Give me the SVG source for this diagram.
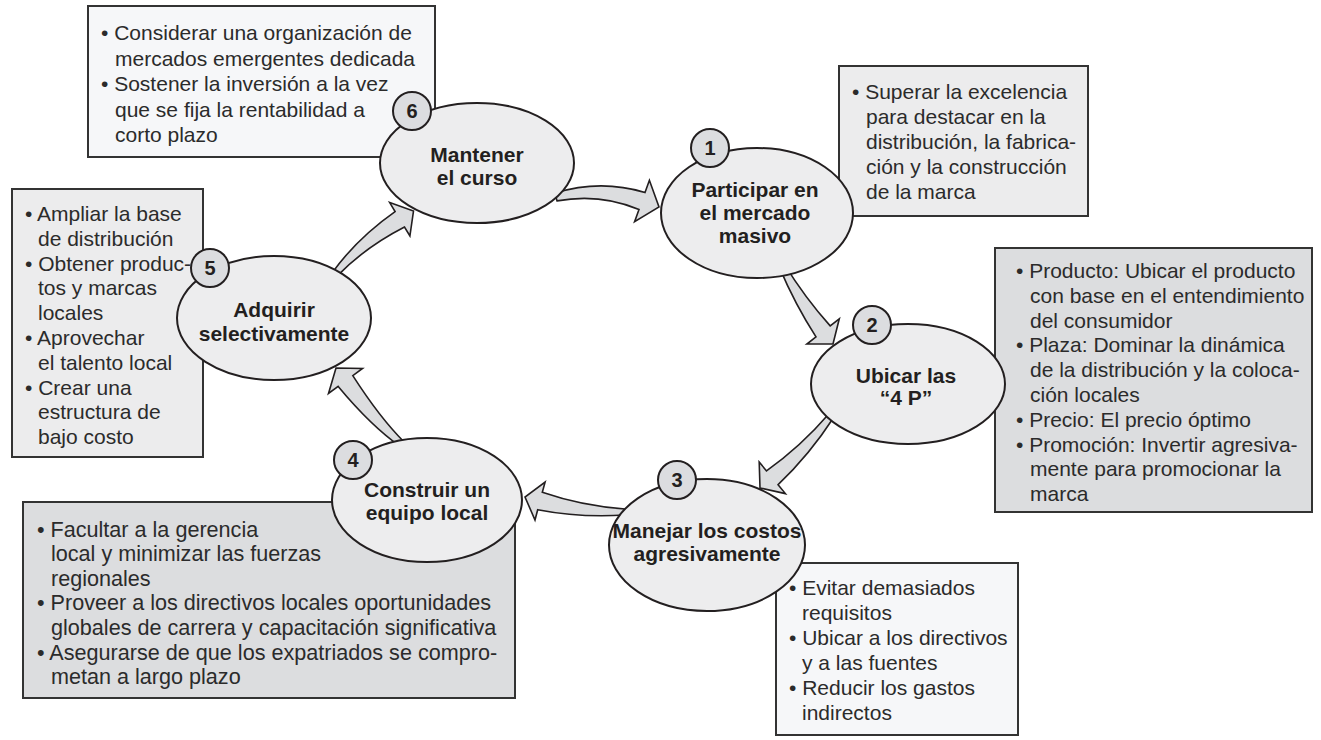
<svg xmlns="http://www.w3.org/2000/svg" width="1321" height="740" viewBox="0 0 1321 740">
<style>
.bx{stroke:#333;stroke-width:2}
.w{fill:#f6f7f9}.l{fill:#ececed}.g{fill:#dcdddf}
.t{font-family:"Liberation Sans",Arial,sans-serif;font-size:21px;fill:#2b2b2b}
.t4{font-size:21.6px}
.lbl{font-family:"Liberation Sans",Arial,sans-serif;font-size:21px;font-weight:bold;fill:#231f20;text-anchor:middle}
.num{font-family:"Liberation Sans",Arial,sans-serif;font-size:20px;font-weight:bold;fill:#231f20;text-anchor:middle}
.ell{fill:#ededee;stroke:#231f20;stroke-width:2}
.cir{fill:#dcdde0;stroke:#231f20;stroke-width:2}
.arr{fill:#dcdddf;stroke:#231f20;stroke-width:1.6;stroke-linejoin:miter}
</style>
<rect width="1321" height="740" fill="#ffffff"/>

<g id="note-6">
<rect class="bx w" x="88" y="6" width="347" height="151"/>
<text class="t" x="101" y="40">• Considerar una organización de</text>
<text class="t" x="115" y="65.5">mercados emergentes dedicada</text>
<text class="t" x="101" y="91">• Sostener la inversión a la vez</text>
<text class="t" x="115" y="116.5">que se fija la rentabilidad a</text>
<text class="t" x="115" y="142">corto plazo</text>
</g>
<g id="note-1">
<rect class="bx l" x="839" y="66" width="249" height="150"/>
<text class="t" x="852" y="99">• Superar la excelencia</text>
<text class="t" x="866" y="124">para destacar en la</text>
<text class="t" x="866" y="149">distribución, la fabrica-</text>
<text class="t" x="866" y="174">ción y la construcción</text>
<text class="t" x="866" y="199">de la marca</text>
</g>
<g id="note-2">
<rect class="bx g" x="995" y="248" width="317" height="264"/>
<text class="t" x="1016" y="278">• Producto: Ubicar el producto</text>
<text class="t" x="1030" y="302.8">con base en el entendimiento</text>
<text class="t" x="1030" y="327.6">del consumidor</text>
<text class="t" x="1016" y="352.4">• Plaza: Dominar la dinámica</text>
<text class="t" x="1030" y="377.2">de la distribución y la coloca-</text>
<text class="t" x="1030" y="402">ción locales</text>
<text class="t" x="1016" y="426.8">• Precio: El precio óptimo</text>
<text class="t" x="1016" y="451.6">• Promoción: Invertir agresiva-</text>
<text class="t" x="1030" y="476.4">mente para promocionar la</text>
<text class="t" x="1030" y="501.2">marca</text>
</g>
<g id="note-3">
<rect class="bx w" x="776" y="563" width="242" height="172"/>
<text class="t" x="789" y="595">• Evitar demasiados</text>
<text class="t" x="802" y="620">requisitos</text>
<text class="t" x="789" y="645">• Ubicar a los directivos</text>
<text class="t" x="802" y="670">y a las fuentes</text>
<text class="t" x="789" y="695">• Reducir los gastos</text>
<text class="t" x="802" y="720">indirectos</text>
</g>
<g id="note-4">
<rect class="bx g" x="23" y="502" width="492" height="196"/>
<text class="t t4" x="37" y="536.5">• Facultar a la gerencia</text>
<text class="t t4" x="51" y="561.1">local y minimizar las fuerzas</text>
<text class="t t4" x="51" y="585.7">regionales</text>
<text class="t t4" x="37" y="610.3">• Proveer a los directivos locales oportunidades</text>
<text class="t t4" x="51" y="634.9">globales de carrera y capacitación significativa</text>
<text class="t t4" x="37" y="659.5">• Asegurarse de que los expatriados se compro-</text>
<text class="t t4" x="51" y="684.1">metan a largo plazo</text>
</g>
<g id="note-5">
<rect class="bx l" x="12" y="189" width="191" height="268"/>
<text class="t" x="25" y="221">• Ampliar la base</text>
<text class="t" x="38" y="245.8">de distribución</text>
<text class="t" x="25" y="270.6">• Obtener produc-</text>
<text class="t" x="38" y="295.4">tos y marcas</text>
<text class="t" x="38" y="320.2">locales</text>
<text class="t" x="25" y="345">• Aprovechar</text>
<text class="t" x="38" y="369.8">el talento local</text>
<text class="t" x="25" y="394.6">• Crear una</text>
<text class="t" x="38" y="419.4">estructura de</text>
<text class="t" x="38" y="444.2">bajo costo</text>
</g>

<g id="connectors">
<path class="arr" d="M555,193.1 Q600.3,179 645,192.5 L649.4,180.3 L659,207 L634.6,221.7 L639,209.5 Q599.7,193 557,200.9 Z"/>
<path class="arr" d="M784.6,264.6 Q805,297.7 830.2,325.9 L839.3,318.8 L833,344 L806.9,344 L816,336.9 Q795,304.3 779.4,267.4 Z"/>
<path class="arr" d="M833.5,417.7 Q809.7,454.4 778.1,484.7 L785.4,493.6 L760,488 L759.2,462 L766.5,470.9 Q800.9,446.4 828.5,414.3 Z"/>
<path class="arr" d="M625,509 Q582,506 542.3,492.3 L545.1,482.1 L525,497 L535,520 L537.7,509.7 Q580.4,518 625,515 Z"/>
<path class="arr" d="M403.9,441.7 Q379.7,417.5 352.8,375.6 L362.5,368.5 L336,368 L328.5,393.5 L338.2,386.4 Q370.9,425.7 400.1,446.3 Z"/>
<path class="arr" d="M337.3,275.9 Q365.3,247.1 404.5,227 L409.9,236 L413.5,211 L389.7,202.6 L395.1,211.6 Q357.5,237.9 332.7,272.1 Z"/>
</g>

<g id="node-6">
<ellipse class="ell" cx="477" cy="163" rx="97" ry="60"/>
<circle class="cir" cx="412" cy="111" r="19"/>
<text class="num" x="412" y="118">6</text>
<text class="lbl" x="477" y="162">Mantener</text>
<text class="lbl" x="477" y="185">el curso</text>
</g>
<g id="node-1">
<ellipse class="ell" cx="757" cy="213" rx="96" ry="65"/>
<circle class="cir" cx="710" cy="148" r="19"/>
<text class="num" x="710" y="155">1</text>
<text class="lbl" x="755" y="197">Participar en</text>
<text class="lbl" x="755" y="220">el mercado</text>
<text class="lbl" x="755" y="243">masivo</text>
</g>
<g id="node-2">
<ellipse class="ell" cx="908" cy="384" rx="97" ry="60"/>
<circle class="cir" cx="872" cy="325" r="19"/>
<text class="num" x="872" y="332">2</text>
<text class="lbl" x="906" y="383">Ubicar las</text>
<text class="lbl" x="906" y="405">&#8220;4 P&#8221;</text>
</g>
<g id="node-3">
<ellipse class="ell" cx="707" cy="545" rx="98" ry="66"/>
<circle class="cir" cx="677" cy="480" r="19"/>
<text class="num" x="677" y="487">3</text>
<text class="lbl" x="707" y="538">Manejar los costos</text>
<text class="lbl" x="707" y="561">agresivamente</text>
</g>
<g id="node-4">
<ellipse class="ell" cx="427" cy="500" rx="95" ry="62"/>
<circle class="cir" cx="353" cy="460" r="19"/>
<text class="num" x="353" y="467">4</text>
<text class="lbl" x="427" y="497">Construir un</text>
<text class="lbl" x="427" y="520">equipo local</text>
</g>
<g id="node-5">
<ellipse class="ell" cx="274" cy="318" rx="97" ry="62"/>
<circle class="cir" cx="210" cy="268" r="19"/>
<text class="num" x="210" y="275">5</text>
<text class="lbl" x="274" y="317">Adquirir</text>
<text class="lbl" x="274" y="341">selectivamente</text>
</g>
</svg>
